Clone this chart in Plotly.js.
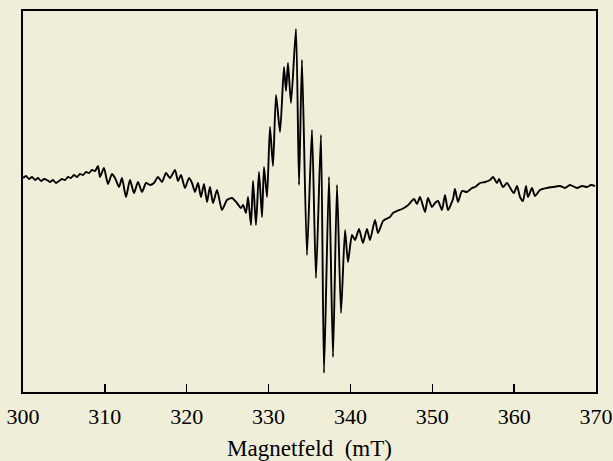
<!DOCTYPE html>
<html>
<head>
<meta charset="utf-8">
<script src="https://cdn.plot.ly/plotly-3.0.1.min.js"></script>
<style>html,body{margin:0;padding:0;background:#f0eed8;}</style>
</head>
<body>
<div id="chart" style="width:613px;height:461px;"></div>
<script>
// Magnetic field (mT)
var field = [300.00,300.37,300.73,301.10,301.47,301.83,302.20,302.57,302.93,303.30,303.66,304.03,304.40,304.76,305.13,305.50,305.86,306.23,306.60,306.96,307.33,307.70,308.06,308.43,308.80,309.16,309.41,309.89,310.38,310.87,311.24,311.73,312.09,312.58,313.07,313.56,314.05,314.54,315.03,315.51,316.00,316.49,316.98,317.47,317.96,318.57,318.93,319.30,319.79,320.28,320.65,321.01,321.38,321.74,322.11,322.48,322.84,323.21,323.70,324.31,324.92,325.53,326.14,326.63,326.88,327.24,327.49,327.85,328.10,328.46,328.83,329.20,329.44,329.81,330.17,330.54,330.91,331.40,331.88,332.13,332.37,332.74,333.35,333.72,334.08,334.69,335.30,335.79,336.40,336.77,337.38,337.87,338.36,338.85,339.34,339.70,340.19,340.56,341.05,341.53,342.02,342.39,343.00,343.37,343.98,344.34,344.83,345.20,345.69,346.30,346.91,347.28,347.77,348.13,348.50,349.11,349.47,349.96,350.33,350.70,351.18,351.55,351.92,352.53,352.77,353.14,353.63,354.24,354.85,355.22,355.83,356.44,357.05,357.42,357.90,358.15,358.64,359.13,359.74,359.98,360.35,360.72,361.08,361.45,361.69,362.18,362.55,363.16,364.01,364.74,365.60,366.21,366.82,367.68,368.29,368.90,369.39,369.88];
// EPR signal (arbitrary units)
var signal = [2,4,1,3,0,2,-1,1,0,-2,0,-3,-1,1,0,3,2,5,3,6,5,8,7,10,9,14,3,12,-4,6,2,-7,2,-17,0,-13,-2,-12,-3,-5,-3,3,-2,7,2,10,-1,5,-8,2,-3,-12,-3,-17,-4,-22,-7,-23,-10,-30,-20,-18,-23,-28,-25,-33,-17,-45,-1,-45,8,-37,13,-17,53,14,85,48,113,89,117,77,151,-5,120,-75,50,-98,45,-193,3,-177,-5,-133,-50,-82,-55,-60,-49,-63,-49,-60,-40,-53,-41,-39,-37,-33,-31,-29,-26,-23,-19,-24,-17,-32,-18,-27,-23,-21,-30,-15,-30,-19,-9,-22,-11,-12,-8,-7,-3,-2,0,3,-3,1,-7,-3,-11,-13,-6,-17,-21,-6,-17,-8,-16,-10,-8,-7,-6,-8,-5,-8,-6,-7,-5,-6];
var tickValues = [300,310,320,330,340,350,360,370];
var tickLabels = ["300","310","320","330","340","350","360","370"];
var xTitle = "Magnetfeld&#160;&#160;(mT)";

var trace = {
  x: field, y: signal, type: "scatter", mode: "lines",
  line: {color: "#000000", width: 1.9, shape: "spline", smoothing: 0.6}, hoverinfo: "skip"
};
var layout = {
  width: 613, height: 461,
  paper_bgcolor: "#f0eed8", plot_bgcolor: "#f0eed8",
  margin: {l: 23, r: 17, t: 11, b: 69, pad: 0},
  showlegend: false,
  font: {family: "Liberation Serif, Times New Roman, serif", color: "#000000", size: 22},
  xaxis: {
    range: [300, 370], tickvals: tickValues, ticktext: tickLabels,
    ticks: "inside", ticklen: 8, tickwidth: 1.5, tickcolor: "#000000",
    ticklabelstandoff: 4,
    showline: true, linecolor: "#000000", linewidth: 2, mirror: true,
    showgrid: false, zeroline: false,
    tickfont: {size: 22, family: "Liberation Serif, serif"},
    title: {text: xTitle, font: {size: 23, family: "Liberation Serif, serif"}, standoff: 14},
    automargin: false
  },
  yaxis: {
    range: [-212, 169], showticklabels: false, ticks: "",
    showline: true, linecolor: "#000000", linewidth: 2, mirror: true,
    showgrid: false, zeroline: false, automargin: false
  }
};
Plotly.newPlot("chart", [trace], layout, {displayModeBar: false, staticPlot: true});
</script>
</body>
</html>
